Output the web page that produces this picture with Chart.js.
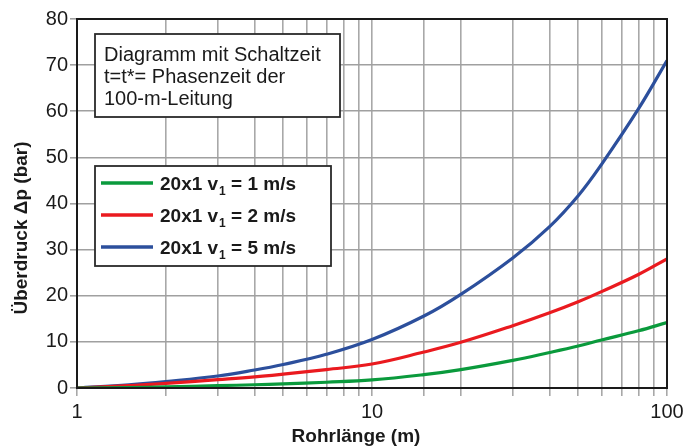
<!DOCTYPE html>
<html>
<head>
<meta charset="utf-8">
<script src="https://cdn.jsdelivr.net/npm/chart.js@4.4.0/dist/chart.umd.min.js"></script>
<style>
  html, body { margin: 0; padding: 0; background: #fff; }
  #wrap { width: 697px; height: 448px; }
</style>
</head>
<body>
<div id="wrap"><canvas id="chart" width="697" height="448"></canvas></div>
<script>
// pipe length (m) and overpressure (bar)
const lengths = [1, 1.5, 2, 3, 4, 5, 7, 10, 15, 20, 30, 40, 50, 60, 80, 100];
const v1Values = [0, 0.1, 0.25, 0.5, 0.7, 0.9, 1.25, 1.75, 2.9, 4.0, 6.0, 7.7, 9.1, 10.4, 12.4, 14.2];
const v2Values = [0, 0.5, 1.0, 1.8, 2.4, 3.0, 4.0, 5.2, 7.8, 9.9, 13.5, 16.3, 18.7, 20.9, 24.6, 28];
const v5Values = [0, 0.7, 1.4, 2.6, 3.9, 5.1, 7.3, 10.5, 15.6, 20.3, 28.2, 35, 41.7, 48.5, 60.5, 71];

const seriesSpeeds = ["1", "2", "5"];
const seriesColors = ["#0a9a3c", "#ea1a1f", "#2c4f9c"];
const xTickLabels = [1, 10, 100];
const noteLines = ["Diagramm mit Schaltzeit", "t=t*= Phasenzeit der", "100-m-Leitung"];
const xTitle = "Rohrlänge (m)";
const yTitle = "Überdruck \u0394p (bar)";

const FONT = "'Liberation Sans', Arial, sans-serif";

function toPoints(values) {
    return lengths.map((l, i) => ({ x: l, y: values[i] }));
}

const allValues = [v1Values, v2Values, v5Values];
const datasets = allValues.map((vals, i) => ({
    label: "20x1 v1 = " + seriesSpeeds[i] + " m/s",
    data: toPoints(vals),
    borderColor: seriesColors[i],
    borderWidth: 3.2,
    pointRadius: 0,
    fill: false,
    tension: 0.4
}));

// boxes, custom legend with subscript, axis titles, frame
const decorations = {
    id: "decorations",
    afterDraw(chart) {
        const ctx = chart.ctx;
        const area = chart.chartArea;
        ctx.save();

        // frame round the plot
        ctx.strokeStyle = "#1a1a1a";
        ctx.lineWidth = 2;
        ctx.strokeRect(area.left, area.top, area.right - area.left, area.bottom - area.top);

        // note box
        ctx.fillStyle = "#fff";
        ctx.fillRect(95, 34, 245, 83);
        ctx.strokeStyle = "#2a2a2a";
        ctx.lineWidth = 1.8;
        ctx.strokeRect(95, 34, 245, 83);
        ctx.fillStyle = "#1a1a1a";
        ctx.font = "20px " + FONT;
        ctx.textBaseline = "alphabetic";
        ctx.textAlign = "left";
        noteLines.forEach((line, i) => {
            ctx.fillText(line, 104, 61 + i * 22);
        });

        // legend box
        ctx.fillStyle = "#fff";
        ctx.fillRect(95, 166, 236, 100);
        ctx.strokeStyle = "#2a2a2a";
        ctx.lineWidth = 1.8;
        ctx.strokeRect(95, 166, 236, 100);
        seriesSpeeds.forEach((speed, i) => {
            const y = 183 + i * 32;
            ctx.strokeStyle = seriesColors[i];
            ctx.lineWidth = 3.4;
            ctx.beginPath();
            ctx.moveTo(101, y);
            ctx.lineTo(153, y);
            ctx.stroke();

            ctx.fillStyle = "#1a1a1a";
            ctx.font = "bold 19px " + FONT;
            let x = 160;
            const base = y + 7;
            ctx.fillText("20x1 v", x, base);
            x += ctx.measureText("20x1 v").width + 1;
            ctx.font = "bold 12px " + FONT;
            ctx.fillText("1", x, base + 5);
            x += ctx.measureText("1").width;
            ctx.font = "bold 19px " + FONT;
            ctx.fillText(" = " + speed + " m/s", x, base);
        });

        // axis titles
        ctx.fillStyle = "#1a1a1a";
        ctx.font = "bold 19px " + FONT;
        ctx.textAlign = "center";
        ctx.fillText(xTitle, 356, 442);

        ctx.translate(27, 228);
        ctx.rotate(-Math.PI / 2);
        ctx.fillText(yTitle, 0, 0);
        ctx.restore();
    }
};

new Chart(document.getElementById("chart"), {
    type: "line",
    data: { datasets: datasets },
    options: {
        responsive: false,
        animation: false,
        layout: { padding: { top: 19, right: 30, left: 0, bottom: 0 } },
        plugins: {
            legend: { display: false },
            tooltip: { enabled: false }
        },
        scales: {
            x: {
                type: "logarithmic",
                min: 1,
                max: 100,
                afterFit(scale) { scale.height = 60; },
                grid: {
                    color: "#a8a8a8",
                    lineWidth: 1.6,
                    tickLength: 8,
                    tickColor: "#a8a8a8"
                },
                border: { color: "#1a1a1a", width: 2 },
                ticks: {
                    autoSkip: false,
                    maxRotation: 0,
                    padding: 4,
                    color: "#1a1a1a",
                    font: { family: FONT, size: 20 },
                    callback: function(value) {
                        return xTickLabels.includes(value) ? String(value) : "";
                    }
                }
            },
            y: {
                min: 0,
                max: 80,
                afterFit(scale) { scale.width = 77; },
                grid: {
                    color: "#a0a0a0",
                    lineWidth: 1.6,
                    tickLength: 7,
                    tickColor: "#a0a0a0"
                },
                border: { color: "#1a1a1a", width: 2 },
                ticks: {
                    stepSize: 10,
                    padding: 2,
                    color: "#1a1a1a",
                    font: { family: FONT, size: 20 }
                }
            }
        }
    },
    plugins: [decorations]
});
</script>
</body>
</html>
